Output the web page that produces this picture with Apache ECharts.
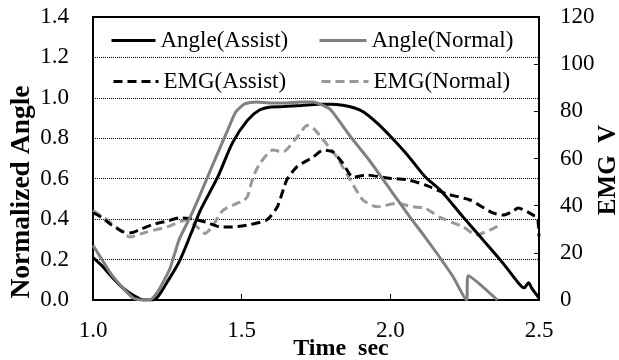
<!DOCTYPE html>
<html>
<head>
<meta charset="utf-8">
<script src="https://cdn.jsdelivr.net/npm/echarts@6/dist/echarts.min.js"></script>
<style>html,body{margin:0;padding:0;background:#fff}#c{width:619px;height:360px}</style>
</head>
<body>
<div id="c"></div>
<script>
// ---- data (time in sec, normalized angle, EMG in V) ----
var angleAssistT = [1.00,1.03,1.06,1.10,1.14,1.17,1.20,1.22,1.25,1.29,1.33,1.36,1.42,1.47,1.52,1.56,1.60,1.64,1.70,1.76,1.80,1.84,1.88,1.91,1.955,2.00,2.056,2.117,2.167,2.245,2.31,2.38,2.436,2.45,2.465,2.475,2.487,2.50];
var angleAssistV = [0.21,0.17,0.12,0.06,0.02,0.00,0.00,0.02,0.09,0.19,0.33,0.44,0.61,0.78,0.89,0.94,0.955,0.957,0.962,0.968,0.968,0.963,0.95,0.93,0.876,0.81,0.72,0.61,0.545,0.41,0.30,0.18,0.075,0.06,0.085,0.06,0.035,0.01];

var angleNormalT = [1.00,1.03,1.06,1.10,1.135,1.16,1.19,1.215,1.24,1.26,1.29,1.33,1.36,1.40,1.45,1.48,1.51,1.55,1.60,1.64,1.70,1.74,1.77,1.80,1.865,1.93,2.00,2.066,2.11,2.157,2.211,2.256,2.262,2.36];
var angleNormalV = [0.27,0.20,0.13,0.06,0.01,0.00,0.00,0.035,0.10,0.16,0.30,0.42,0.52,0.66,0.83,0.93,0.97,0.98,0.975,0.975,0.98,0.98,0.965,0.94,0.81,0.69,0.545,0.41,0.325,0.23,0.115,0.0,0.12,0.0];

var emgAssistT = [1.00,1.03,1.06,1.10,1.13,1.16,1.20,1.25,1.29,1.33,1.38,1.43,1.47,1.53,1.585,1.62,1.652,1.686,1.74,1.774,1.807,1.84,1.875,1.92,1.99,2.056,2.117,2.19,2.268,2.345,2.38,2.41,2.43,2.46,2.48,2.495,2.50];
var emgAssistV = [37,35,32,29,28.5,30,32,33.5,34.8,34.5,33,31,31,32,34,39.5,51,56.5,60.6,63.6,62.8,58,52,53,51.7,51,48.8,45,42.4,36.9,36,37.5,39,37.5,36,35,27];

var emgNormalT = [1.00,1.047,1.09,1.124,1.18,1.249,1.316,1.35,1.377,1.40,1.437,1.484,1.505,1.52,1.538,1.562,1.605,1.639,1.686,1.72,1.74,1.774,1.82,1.865,1.908,1.955,2.022,2.076,2.117,2.167,2.245,2.29,2.335,2.369];
var emgNormalV = [38,34,29.7,26.7,28.8,31,34,31,28.2,31,38,41,42,44,52,58,63.6,62.8,69,74,73,68,60.6,51,42.4,39.5,41,39.5,39,35,31,27.6,29.7,31.8];

var xTicks = [1.0, 1.5, 2.0, 2.5];
var yLeftMax = 1.4, yRightMax = 120;

function zip(t, v) { return t.map(function (x, i) { return [x, v[i]]; }); }

var FONT = 'Liberation Serif';
var chart = echarts.init(document.getElementById('c'), null, {renderer: 'canvas'});

function legendItem(name, left, top, w) {
  return {
    data: [name], left: left, top: top, orient: 'horizontal',
    itemWidth: w, itemHeight: 24, padding: 0, selectedMode: false,
    itemStyle: {opacity: 0},
    lineStyle: {width: 3},
    textStyle: {fontFamily: FONT, fontSize: 23, color: '#000', lineHeight: 24}
  };
}

chart.setOption({
  animation: false,
  backgroundColor: '#fff',
  grid: {left: 93, right: 80, top: 17, bottom: 60, show: true, borderColor: '#000', borderWidth: 2, backgroundColor: 'transparent'},
  legend: [
    legendItem('Angle(Assist)', 110, 28.5, 44),
    legendItem('Angle(Normal)', 318, 28.5, 47),
    legendItem('EMG(Assist)', 112, 69.5, 45),
    legendItem('EMG(Normal)', 320, 69.5, 47)
  ],
  xAxis: {
    type: 'value', min: xTicks[0], max: xTicks[xTicks.length - 1], interval: 0.5,
    axisLine: {show: true, lineStyle: {color: '#000', width: 2}},
    axisTick: {show: true, inside: true, length: 6, lineStyle: {color: '#000', width: 1}},
    axisLabel: {margin: 19, fontFamily: FONT, fontSize: 23, color: '#000', formatter: function (v) { return v.toFixed(1); }},
    splitLine: {show: false}
  },
  yAxis: [
    {
      type: 'value', min: 0, max: yLeftMax, interval: 0.2, position: 'left',
      axisLine: {show: true, lineStyle: {color: '#000', width: 2}},
      axisTick: {show: false},
      axisLabel: {margin: 24, fontFamily: FONT, fontSize: 23, color: '#000', formatter: function (v) { return v.toFixed(1); }},
      splitLine: {show: true, lineStyle: {color: '#000', width: 1, type: [1, 1]}}
    },
    {
      type: 'value', min: 0, max: yRightMax, interval: 20, position: 'right',
      axisLine: {show: true, lineStyle: {color: '#000', width: 2}},
      axisTick: {show: true, inside: true, length: 5, lineStyle: {color: '#000', width: 1}},
      axisLabel: {margin: 21, fontFamily: FONT, fontSize: 23, color: '#000'},
      splitLine: {show: false}
    }
  ],
  series: [
    {name: 'EMG(Normal)', type: 'line', yAxisIndex: 1, data: zip(emgNormalT, emgNormalV), showSymbol: false, symbol: 'none', smooth: 0.2,
     lineStyle: {color: '#999999', width: 3, type: [9, 5]}, itemStyle: {color: '#999999'}},
    {name: 'EMG(Assist)', type: 'line', yAxisIndex: 1, data: zip(emgAssistT, emgAssistV), showSymbol: false, symbol: 'none', smooth: 0.2,
     lineStyle: {color: '#000', width: 3, type: [9, 5]}, itemStyle: {color: '#000'}},
    {name: 'Angle(Assist)', type: 'line', yAxisIndex: 0, data: zip(angleAssistT, angleAssistV), showSymbol: false, symbol: 'none', smooth: 0.3,
     lineStyle: {color: '#000', width: 3}, itemStyle: {color: '#000'}},
    {name: 'Angle(Normal)', type: 'line', yAxisIndex: 0, data: zip(angleNormalT, angleNormalV), showSymbol: false, symbol: 'none', smooth: 0.2,
     lineStyle: {color: '#808080', width: 3}, itemStyle: {color: '#808080'}}
  ],
  graphic: [
    {type: 'text', x: 22, y: 192, rotation: Math.PI / 2,
     style: {text: 'Normalized Angle', fontFamily: FONT, fontSize: 27.5, fontWeight: 'bold', fill: '#000', align: 'center', verticalAlign: 'middle'}},
    {type: 'text', x: 609, y: 170, rotation: Math.PI / 2,
     style: {text: 'EMG  V', fontFamily: FONT, fontSize: 25, fontWeight: 'bold', fill: '#000', align: 'center', verticalAlign: 'middle'}},
    {type: 'text', x: 341, y: 349,
     style: {text: 'Time  sec', fontFamily: FONT, fontSize: 24, fontWeight: 'bold', fill: '#000', align: 'center', verticalAlign: 'middle'}}
  ]
});
</script>
</body>
</html>
